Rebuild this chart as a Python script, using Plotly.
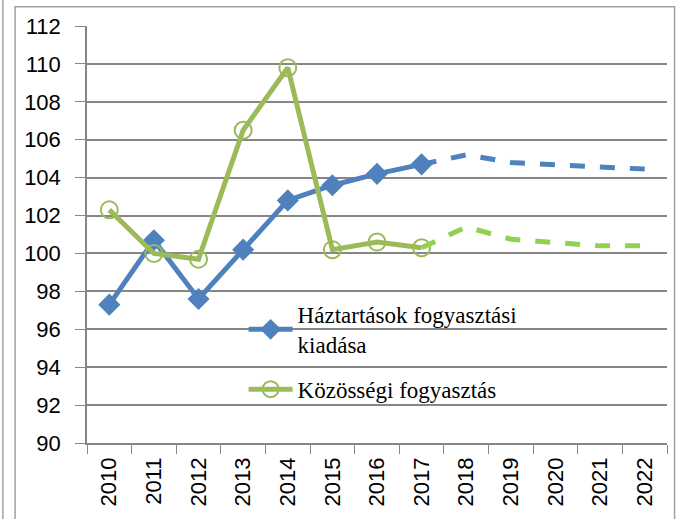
import plotly.graph_objects as go

years = ["2010", "2011", "2012", "2013", "2014", "2015", "2016", "2017",
         "2018", "2019", "2020", "2021", "2022"]
hh_actual = [97.3, 100.7, 97.6, 100.2, 102.8, 103.6, 104.2, 104.7]
hh_forecast = [104.7, 105.2, 104.8, 104.7, 104.6, 104.45]
gov_actual = [102.3, 100.0, 99.7, 106.5, 109.8, 100.2, 100.6, 100.3]
gov_forecast = [100.3, 101.4, 100.75, 100.55, 100.4, 100.4]

names = ["Háztartások fogyasztási<br>kiadása", "Közösségi fogyasztás"]

fig = go.Figure()
fig.add_trace(go.Scatter(x=years[:8], y=hh_actual, mode="lines+markers", name=names[0],
                         legendgroup="a",
                         line=dict(color="#4F81BD", width=5),
                         marker=dict(symbol="diamond", size=17, color="#4F81BD")))
fig.add_trace(go.Scatter(x=years[:8], y=gov_actual, mode="lines+markers", name=names[1],
                         legendgroup="b",
                         line=dict(color="#9BBB59", width=5),
                         marker=dict(symbol="circle-open", size=17, color="#9BBB59",
                                     line=dict(width=2, color="#9BBB59"))))
fig.add_trace(go.Scatter(x=years[7:], y=hh_forecast, mode="lines",
                         line=dict(color="#4F81BD", width=5, dash="dash"),
                         showlegend=False, hoverinfo="skip"))
fig.add_trace(go.Scatter(x=years[7:], y=gov_forecast, mode="lines",
                         line=dict(color="#92D050", width=5, dash="dash"),
                         showlegend=False, hoverinfo="skip"))

fig.update_layout(
    width=678, height=519,
    margin=dict(l=87, r=11, t=26, b=76),
    paper_bgcolor="white", plot_bgcolor="white",
    font=dict(family="Liberation Sans", size=22, color="black"),
    legend=dict(x=0.27, y=0.36, xanchor="left", yanchor="top",
                bgcolor="rgba(255,255,255,0)", traceorder="grouped",
                font=dict(family="Liberation Serif", size=23, color="black"),
                tracegroupgap=12, itemwidth=44),
    shapes=[
        dict(type="rect", xref="paper", yref="paper", x0=-0.124, x1=1.013,
             y0=-0.3, y1=1.046, line=dict(color="#A0A0A0", width=1.5)),
        dict(type="line", xref="paper", yref="paper", x0=-0.145, x1=-0.145,
             y0=-0.3, y1=1.1, line=dict(color="#A0A0A0", width=1.5)),
    ],
)
fig.update_xaxes(type="category", categoryorder="array", categoryarray=years,
                 range=[-0.5, len(years) - 0.5],
                 showgrid=False, showline=True,
                 linecolor="#868686", linewidth=1.5,
                 ticks="outside", tickson="boundaries", ticklen=9,
                 tickcolor="#868686", tickangle=-90, ticklabelstandoff=4,
                 tickfont=dict(size=22))
fig.update_yaxes(range=[90, 112], dtick=2, showgrid=True, gridcolor="#868686",
                 gridwidth=1.5, showline=True, linecolor="#868686", linewidth=1.5,
                 ticks="outside", ticklen=10, tickcolor="#868686",
                 ticklabelstandoff=10,
                 zeroline=False, tickfont=dict(size=22))

fig.write_html("out.html", config={"displayModeBar": False},
               post_script="document.body.style.margin='0';")
